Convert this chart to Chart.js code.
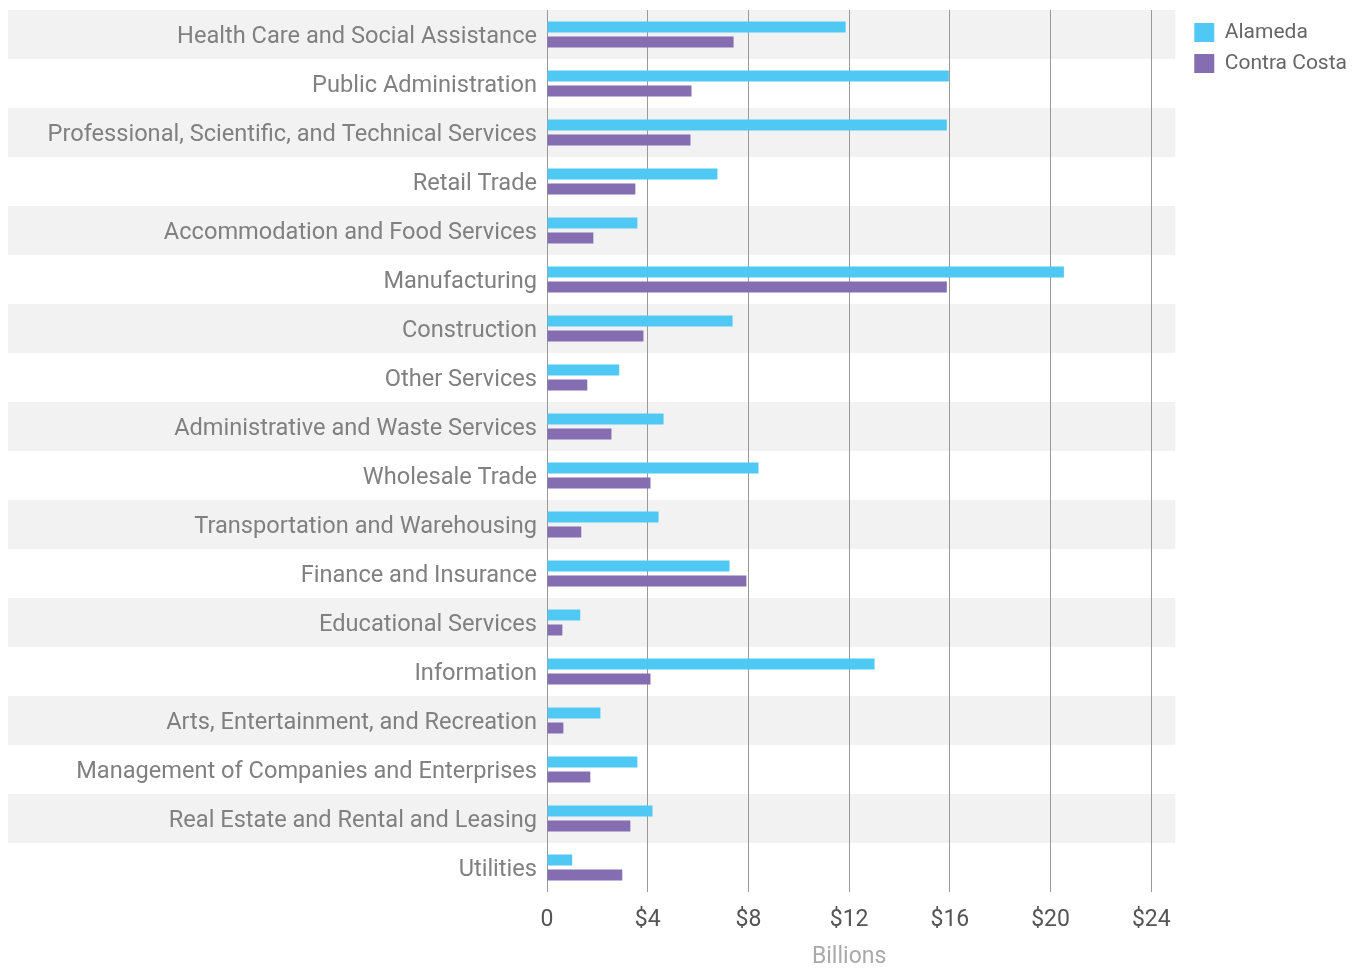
<!DOCTYPE html>
<html>
<head>
<meta charset="utf-8">
<title>Output by Industry</title>
<script src="https://cdn.jsdelivr.net/npm/chart.js@4.4.1/dist/chart.umd.min.js"></script>
<style>
  html, body { margin: 0; padding: 0; background: #ffffff; }
  #wrap { width: 1362px; height: 969px; position: relative; }
</style>
</head>
<body>
<div id="wrap"><canvas id="chart"></canvas></div>
<script>
// Output by industry, billions of dollars
const industries = [
  'Health Care and Social Assistance',
  'Public Administration',
  'Professional, Scientific, and Technical Services',
  'Retail Trade',
  'Accommodation and Food Services',
  'Manufacturing',
  'Construction',
  'Other Services',
  'Administrative and Waste Services',
  'Wholesale Trade',
  'Transportation and Warehousing',
  'Finance and Insurance',
  'Educational Services',
  'Information',
  'Arts, Entertainment, and Recreation',
  'Management of Companies and Enterprises',
  'Real Estate and Rental and Leasing',
  'Utilities'
];

const alameda = [11.86, 15.96, 15.88, 6.77, 3.59, 20.53, 7.37, 2.87, 4.63, 8.40, 4.43, 7.25, 1.32, 13.01, 2.12, 3.59, 4.19, 1.00];
const contraCosta = [7.41, 5.74, 5.70, 3.51, 1.84, 15.88, 3.83, 1.60, 2.56, 4.11, 1.36, 7.92, 0.61, 4.11, 0.65, 1.72, 3.31, 2.99];

const xTickValues = [0, 4, 8, 12, 16, 20, 24];
const xTickLabels = ['0', '$4', '$8', '$12', '$16', '$20', '$24'];

const FONT = 'Roboto, "Noto Sans", sans-serif';

// Alternating light bands behind every other row; they run under the labels
// and a little past the last gridline
const BAND_OVERHANG = 24;
const rowBands = {
  id: 'rowBands',
  beforeDraw(chart) {
    const { ctx, chartArea, scales } = chart;
    const y = scales.y;
    const n = industries.length;
    const step = (y.bottom - y.top) / n;
    ctx.save();
    ctx.fillStyle = '#f2f2f2';
    for (let i = 0; i < n; i += 2) {
      const cy = y.getPixelForValue(i);
      ctx.fillRect(y.left, cy - step / 2, chartArea.right + BAND_OVERHANG - y.left, step);
    }
    ctx.restore();
  }
};

// Push the legend entries clear of the banded plot
const LEGEND_SHIFT_X = 33;
const LEGEND_SHIFT_Y = 2;
const legendGap = {
  id: 'legendGap',
  afterLayout(chart) {
    const lg = chart.legend;
    if (lg) {
      lg.left += LEGEND_SHIFT_X;
      lg.right += LEGEND_SHIFT_X;
      lg.top += LEGEND_SHIFT_Y;
      lg.bottom += LEGEND_SHIFT_Y;
    }
  }
};

new Chart(document.getElementById('chart'), {
  type: 'bar',
  data: {
    labels: industries,
    datasets: [
      {
        label: 'Alameda',
        data: alameda,
        backgroundColor: '#4fc9f4',
        categoryPercentage: 0.612,
        barPercentage: 0.733
      },
      {
        label: 'Contra Costa',
        data: contraCosta,
        backgroundColor: '#846db0',
        categoryPercentage: 0.612,
        barPercentage: 0.733
      }
    ]
  },
  plugins: [rowBands, legendGap],
  options: {
    indexAxis: 'y',
    responsive: true,
    maintainAspectRatio: false,
    animation: false,
    layout: { padding: { top: 10, left: 8, right: 38, bottom: 0 } },
    plugins: {
      tooltip: { enabled: false },
      legend: {
        position: 'right',
        align: 'start',
        labels: {
          boxWidth: 20,
          boxHeight: 19,
          padding: 10,
          color: '#666666',
          font: { family: FONT, size: 21 }
        }
      }
    },
    scales: {
      x: {
        min: 0,
        max: 24,
        afterBuildTicks(scale) {
          scale.ticks = xTickValues.map(v => ({ value: v }));
        },
        afterFit(scale) { scale.height = 77; },
        ticks: {
          color: '#555555',
          padding: 17,
          font: { family: FONT, size: 23, lineHeight: 1 },
          callback(value) {
            const i = xTickValues.indexOf(value);
            return i >= 0 ? xTickLabels[i] : '';
          }
        },
        grid: { color: '#999999', lineWidth: 1, drawTicks: false },
        border: { display: false },
        title: {
          display: true,
          text: 'Billions',
          color: '#aaaaaa',
          font: { family: FONT, size: 23, lineHeight: 1 },
          padding: { top: 0, bottom: 0 }
        }
      },
      y: {
        afterFit(scale) {
          scale.width = 539;
          scale.paddingTop = 0;
          scale.paddingBottom = 0;
        },
        ticks: {
          color: '#808080',
          padding: 10,
          labelOffset: 3,
          font: { family: FONT, size: 23.6 }
        },
        grid: { display: false, drawTicks: false },
        border: { display: false }
      }
    }
  }
});
</script>
</body>
</html>
